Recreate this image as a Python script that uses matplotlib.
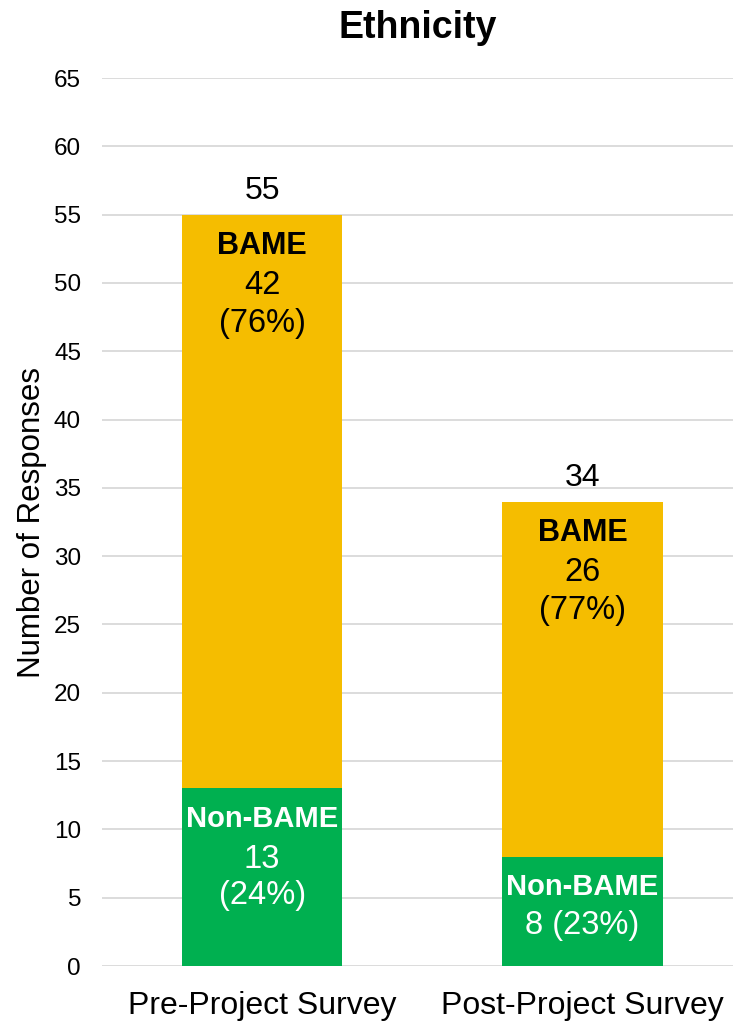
import matplotlib.pyplot as plt

plt.rcParams['font.family'] = ['Liberation Sans', 'DejaVu Sans']

# survey responses by ethnicity
surveys = ['Pre-Project Survey', 'Post-Project Survey']
non_bame = [13, 8]
bame = [42, 26]
totals = [55, 34]
bame_pct = ['76%', '77%']
non_bame_pct = ['24%', '23%']

gold = '#F5BD00'
green = '#00B050'

fig = plt.figure(figsize=(7.33, 10.24), dpi=100)
ax = fig.add_axes([0.139, 0.0566, 0.861, 0.8672])

x = range(len(surveys))
ax.bar(x, non_bame, width=0.5, color=green, zorder=2)
ax.bar(x, bame, width=0.5, bottom=non_bame, color=gold, zorder=2)

ax.set_ylim(0, 65)
ax.set_xlim(-0.5, 1.47)
ax.set_yticks(range(0, 66, 5))
ax.set_xticks(list(x))
ax.set_xticklabels(surveys, fontsize=23)
ax.tick_params(axis='y', labelsize=17.5, length=0, pad=15)
ax.tick_params(axis='x', length=0, pad=18)
ax.grid(axis='y', color='#D9D9D9', linewidth=1.3, zorder=0)
ax.set_axisbelow(True)
for s in ax.spines.values():
    s.set_visible(False)

ax.set_ylabel('Number of Responses', fontsize=22.5, labelpad=5)
ax.set_title('Ethnicity', fontsize=27, fontweight='bold', pad=29)

# totals above bars
for i, t in enumerate(totals):
    ax.annotate(str(t), (i, t), xytext=(0, 6), textcoords='offset points',
                ha='center', va='bottom', fontsize=23)

# segment labels
for i in x:
    top = non_bame[i] + bame[i]
    ax.annotate('BAME', (i, top), xytext=(0, -12), textcoords='offset points',
                ha='center', va='top', fontsize=22, fontweight='bold')
    ax.annotate(f'{bame[i]}\n({bame_pct[i]})', (i, top), xytext=(0, -40),
                textcoords='offset points', ha='center', va='top',
                fontsize=23.5, linespacing=1.3)

    ax.annotate('Non-BAME', (i, non_bame[i]), xytext=(0, -12),
                textcoords='offset points', ha='center', va='top',
                fontsize=21, fontweight='bold', color='white')
    if i == 0:
        txt = f'{non_bame[i]}\n({non_bame_pct[i]})'
        off = -40
    else:
        txt = f'{non_bame[i]} ({non_bame_pct[i]})'
        off = -38
    ax.annotate(txt, (i, non_bame[i]), xytext=(0, off),
                textcoords='offset points', ha='center', va='top',
                fontsize=23.5, color='white', linespacing=1.2)

fig.savefig('out.png', dpi=100)
